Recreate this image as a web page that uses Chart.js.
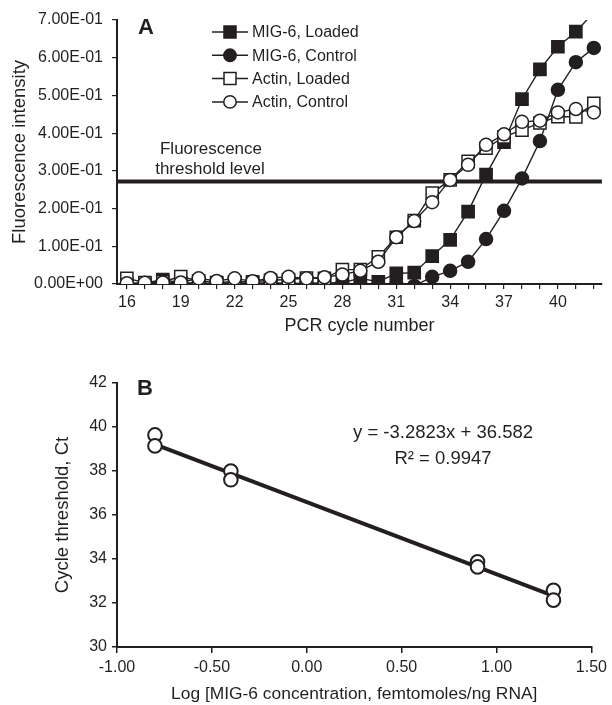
<!DOCTYPE html>
<html><head><meta charset="utf-8">
<script src="https://cdn.jsdelivr.net/npm/chart.js@4.4.0/dist/chart.umd.min.js"></script>
<style>
html,body{margin:0;padding:0;background:#fff;}
#wrap{position:relative;width:612px;height:705px;overflow:hidden;}
canvas{position:absolute;left:0;}
#ca{top:0;} #cb{top:345px;}
</style></head><body>
<div id="wrap"><canvas id="ca" width="612" height="340"></canvas><canvas id="cb" width="612" height="360"></canvas></div>
<script>
// ---------- Panel A data ----------
const cycles = [16,17,18,19,20,21,22,23,24,25,26,27,28,29,30,31,32,33,34,35,36,37,38,39,40,41,42];
const mig6Loaded  = [0.000,0.002,0.012,0.003,0.002,0.001,0.002,0.003,0.002,0.000,0.003,0.002,0.004,0.015,0.006,0.028,0.030,0.074,0.117,0.192,0.290,0.376,0.490,0.569,0.629,0.669,0.720];
const mig6Control = [0.001,0.000,0.002,0.003,0.002,-0.002,-0.005,0.000,0.003,0.002,0.000,0.001,0.000,-0.002,-0.001,0.002,-0.005,0.019,0.035,0.059,0.119,0.194,0.280,0.379,0.515,0.588,0.626];
const actinLoaded = [0.015,0.004,0.006,0.020,0.008,0.004,0.006,0.006,0.010,0.012,0.016,0.015,0.038,0.038,0.072,0.124,0.168,0.241,0.276,0.325,0.360,0.390,0.408,0.427,0.444,0.443,0.479];
const actinControl= [0.002,0.003,0.004,0.004,0.015,0.008,0.015,0.007,0.016,0.019,0.015,0.018,0.025,0.035,0.059,0.124,0.167,0.217,0.276,0.316,0.369,0.397,0.430,0.433,0.455,0.464,0.455];
const thresholdLevel = 0.272;
const fluorTicks = [0,0.1,0.2,0.3,0.4,0.5,0.6,0.7];
const cycleTickLabels = [16,19,22,25,28,31,34,37,40];
const cycleRange = [15.45, 42.45];

// ---------- Panel B data ----------
const logConc  = [-0.8,-0.8,-0.4,-0.4,0.9,0.9,1.3,1.3];
const ctValues = [39.64,39.14,38.00,37.60,33.87,33.64,32.58,32.13];
const trendX = [-0.8, 1.3];
const trendY = [39.21, 32.32];
const ctTicks = [30,32,34,36,38,40,42];
const logTicks = [-1.0,-0.5,0.0,0.5,1.0,1.5];

const FONT = '"Liberation Sans", Arial, Helvetica, sans-serif';
const INK = '#231f20';
Chart.defaults.font.family = FONT;
Chart.defaults.color = INK;
Chart.defaults.animation = false;

function sci(v){
  if (Math.abs(v) < 1e-12) return '0.00E+00';
  const s = v.toExponential(2).toUpperCase();
  const [m, e] = s.split('E');
  const n = parseInt(e, 10);
  return m + 'E' + (n < 0 ? '-' : '+') + String(Math.abs(n)).padStart(2, '0');
}
const pts = arr => cycles.map((c, i) => ({x: c, y: arr[i]}));

// ---------- Panel A ----------
const series = [
  {label:'MIG-6, Loaded',  data: mig6Loaded,  style:'rect',   fill: INK,    order: 3},
  {label:'MIG-6, Control', data: mig6Control, style:'circle', fill: INK,    order: 2},
  {label:'Actin, Loaded',  data: actinLoaded, style:'rect',   fill: '#fff', order: 1},
  {label:'Actin, Control', data: actinControl,style:'circle', fill: '#fff', order: 0}
];
const yMaxA = fluorTicks[fluorTicks.length - 1];

const legendA = {
  id: 'legendA',
  afterDraw(chart){
    const ctx = chart.ctx;
    ctx.save();
    series.forEach((s, i) => {
      const y = 32 + i * 23.3;
      ctx.strokeStyle = INK; ctx.lineWidth = 1.5;
      ctx.beginPath(); ctx.moveTo(212, y); ctx.lineTo(248, y); ctx.stroke();
      ctx.fillStyle = s.fill;
      ctx.beginPath();
      if (s.style === 'rect') ctx.rect(224, y - 6, 12, 12);
      else ctx.arc(230, y, 6.2, 0, Math.PI * 2);
      ctx.fill(); ctx.stroke();
      ctx.fillStyle = INK;
      ctx.font = '16px ' + FONT;
      ctx.textBaseline = 'middle'; ctx.textAlign = 'left';
      ctx.fillText(s.label, 252, y + 1);
    });
    ctx.font = 'bold 22px ' + FONT;
    ctx.textAlign = 'center';
    ctx.fillText('A', 146, 28);
    ctx.font = '17px ' + FONT;
    ctx.fillText('Fluorescence', 211, 149);
    ctx.fillText('threshold level', 210, 169);
    ctx.restore();
  }
};

new Chart(document.getElementById('ca'), {
  type: 'line',
  data: {
    datasets: [
      ...series.map(s => ({
        label: s.label,
        data: pts(s.data),
        borderColor: INK,
        borderWidth: 1.4,
        backgroundColor: s.fill,
        pointBackgroundColor: s.fill,
        pointBorderColor: INK,
        pointBorderWidth: 1.5,
        pointStyle: s.style,
        pointRadius: ctx => (ctx.raw && ctx.raw.y > yMaxA) ? 0 : (s.style === 'rect' ? 8.6 : 6.5),
        tension: 0,
        order: s.order
      })),
      {
        label: 'threshold',
        data: [{x: cycleRange[0], y: thresholdLevel}, {x: cycleRange[1], y: thresholdLevel}],
        borderColor: INK, borderWidth: 4, pointRadius: 0, order: 5
      }
    ]
  },
  options: {
    responsive: false,
    devicePixelRatio: 1,
    layout: {padding: {left: 0, right: 9, top: 20, bottom: 3}},
    plugins: {legend: {display: false}, tooltip: {enabled: false}},
    scales: {
      x: {
        type: 'linear', min: cycleRange[0], max: cycleRange[1],
        afterBuildTicks: s => { s.ticks = cycles.map(v => ({value: v})); },
        afterFit: s => { s.height = 53; },
        ticks: {autoSkip: false, maxRotation: 0, padding: 4, font: {size: 16},
                callback: v => cycleTickLabels.includes(v) ? String(v) : ''},
        grid: {drawOnChartArea: false, drawTicks: true, tickLength: 5, color: INK, lineWidth: 1.2},
        border: {display: true, color: INK, width: 2},
        title: {display: true, text: 'PCR cycle number', font: {size: 18}, padding: {top: 0, bottom: 0}}
      },
      y: {
        type: 'linear', min: 0, max: yMaxA,
        afterBuildTicks: s => { s.ticks = fluorTicks.map(v => ({value: v})); },
        afterFit: s => { s.width = 117; },
        ticks: {padding: 9, font: {size: 16}, callback: v => sci(v)},
        grid: {drawOnChartArea: false, drawTicks: true, tickLength: 5, color: INK, lineWidth: 1.2},
        border: {display: true, color: INK, width: 2},
        title: {display: true, text: 'Fluorescence intensity', font: {size: 18.5}, padding: {top: 9, bottom: 0}}
      }
    }
  },
  plugins: [legendA]
});

// ---------- Panel B ----------
const textB = {
  id: 'textB',
  afterDraw(chart){
    const ctx = chart.ctx;
    ctx.save();
    ctx.fillStyle = INK;
    ctx.textAlign = 'center'; ctx.textBaseline = 'middle';
    ctx.font = 'bold 22px ' + FONT;
    ctx.fillText('B', 145, 44);
    ctx.font = '18.5px ' + FONT;
    ctx.fillText('y = -3.2823x + 36.582', 443, 88);
    ctx.fillText('R\u00B2 = 0.9947', 443, 114);
    ctx.restore();
  }
};

new Chart(document.getElementById('cb'), {
  type: 'scatter',
  data: {
    datasets: [
      {
        label: 'Ct',
        data: logConc.map((x, i) => ({x, y: ctValues[i]})),
        pointStyle: 'circle', pointRadius: 6.8,
        pointBackgroundColor: '#fff', pointBorderColor: INK, pointBorderWidth: 2,
        showLine: false, order: 0
      },
      {
        type: 'line',
        label: 'fit',
        data: trendX.map((x, i) => ({x, y: trendY[i]})),
        borderColor: INK, borderWidth: 4, pointRadius: 0, order: 1
      }
    ]
  },
  options: {
    responsive: false,
    devicePixelRatio: 1,
    layout: {padding: {left: 0, right: 18, top: 38, bottom: 0}},
    plugins: {legend: {display: false}, tooltip: {enabled: false}},
    scales: {
      x: {
        type: 'linear', min: logTicks[0], max: logTicks[logTicks.length - 1],
        afterBuildTicks: s => { s.ticks = logTicks.map(v => ({value: v})); },
        afterFit: s => { s.height = 58; },
        ticks: {padding: 5, maxRotation: 0, font: {size: 16}, callback: v => Number(v).toFixed(2)},
        grid: {drawOnChartArea: false, drawTicks: true, tickLength: 6, color: INK, lineWidth: 1.5},
        border: {display: true, color: INK, width: 2},
        title: {display: true, text: 'Log [MIG-6 concentration, femtomoles/ng RNA]', font: {size: 17.4}, padding: {top: 0, bottom: 0}}
      },
      y: {
        type: 'linear', min: ctTicks[0], max: ctTicks[ctTicks.length - 1],
        afterBuildTicks: s => { s.ticks = ctTicks.map(v => ({value: v})); },
        afterFit: s => { s.width = 117; },
        ticks: {padding: 5, font: {size: 16}},
        grid: {drawOnChartArea: false, drawTicks: true, tickLength: 5, color: INK, lineWidth: 1.5},
        border: {display: true, color: INK, width: 2},
        title: {display: true, text: 'Cycle threshold, Ct', font: {size: 18.5}, padding: {top: 52, bottom: 0}}
      }
    }
  },
  plugins: [textB]
});
</script>
</body></html>
